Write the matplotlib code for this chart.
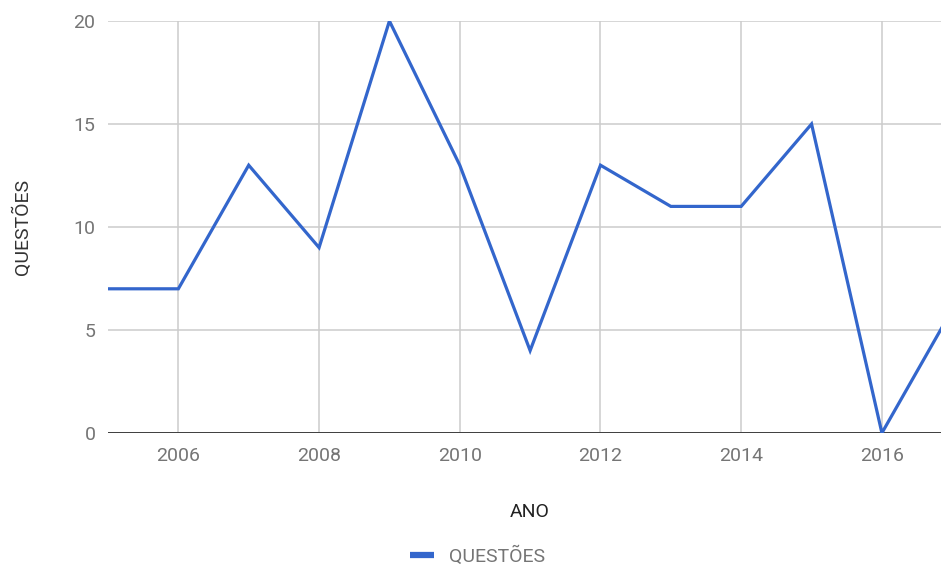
import matplotlib
matplotlib.use("Agg")
import matplotlib.pyplot as plt
from matplotlib.lines import Line2D

plt.rcParams['font.family'] = ['Roboto', 'DejaVu Sans']

anos = [2005, 2006, 2007, 2008, 2009, 2010, 2011, 2012, 2013, 2014, 2015, 2016, 2017]
questoes = [7, 7, 13, 9, 20, 13, 4, 13, 11, 11, 15, 0, 6]
xticks = [2006, 2008, 2010, 2012, 2014, 2016]
yticks = [0, 5, 10, 15, 20]

W, H = 941, 565
fig = plt.figure(figsize=(W / 100, H / 100), dpi=100)
ax = fig.add_axes([108 / W, 1 - 433 / H, (W - 108) / W, (433 - 21) / H])

ax.plot(anos, questoes, color='#3366cc', lw=2.3, solid_joinstyle='miter', zorder=3, clip_on=True)

ax.set_xlim(2005, 2016.84)
ax.set_ylim(0, 20)
ax.set_xticks(xticks)
ax.set_yticks(yticks)
ax.grid(True, color='#cccccc', lw=1.1, zorder=0)
ax.axhline(0, color='#333333', lw=1.3, zorder=2)
for s in ax.spines.values():
    s.set_visible(False)
ax.tick_params(length=0, labelsize=14, labelcolor='#757575', pad=9)
ax.tick_params(axis='x', pad=10)

ax.set_xlabel('ANO', fontsize=14, color='#222222')
ax.xaxis.set_label_coords((530 - 108) / (W - 108), -(512 - 433) / (433 - 21))
ax.set_ylabel('QUESTÕES', fontsize=14, color='#333333')
ax.yaxis.set_label_coords(-(108 - 22) / (W - 108), 0.5)
ax.xaxis.label.set_va('center')
ax.yaxis.label.set_va('center')

handle = Line2D([0], [0], color='#3366cc', lw=4.5, solid_capstyle='butt')
fig.legend([handle], ['QUESTÕES'], loc='center', bbox_to_anchor=(478 / W, 1 - 556 / H),
           frameon=False, fontsize=14, labelcolor='#757575', handlelength=1.2,
           handletextpad=0.8)

fig.savefig('out.png', dpi=100)
